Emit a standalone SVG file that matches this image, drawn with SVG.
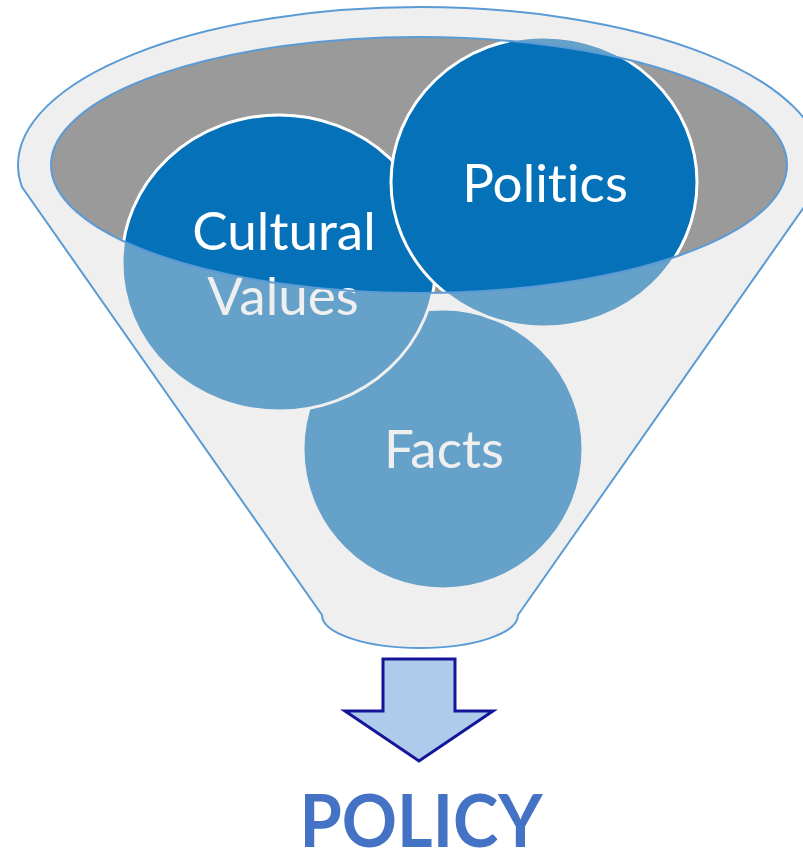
<svg xmlns="http://www.w3.org/2000/svg" width="803" height="854" viewBox="0 0 803 854">
  <style>
    .circ { fill: #0571b8; stroke: #ffffff; stroke-width: 3; }
    .lbl { font-family: Lato, "Open Sans", "Liberation Sans", sans-serif; font-size: 53px; fill: #ffffff; text-anchor: middle; font-variant-ligatures: none; font-feature-settings: "liga" 0, "clig" 0; }
    .outline { fill: none; stroke: #5b9bd5; stroke-width: 2; }
  </style>
  <rect width="803" height="854" fill="#ffffff"/>
  <g id="funnel-mouth">
    <ellipse cx="419" cy="165" rx="368" ry="128" fill="#9a9a9a"/>
  </g>
  <g id="node-facts">
    <ellipse class="circ" cx="443" cy="449" rx="140" ry="140"/>
    <text class="lbl" x="444" y="468">Facts</text>
  </g>
  <g id="node-cultural-values">
    <ellipse class="circ" cx="279" cy="263" rx="157" ry="148"/>
    <text class="lbl" x="284" y="250">Cultural</text>
    <text class="lbl" x="283" y="315">Values</text>
  </g>
  <g id="node-politics">
    <ellipse class="circ" cx="544" cy="182" rx="153" ry="145"/>
    <text class="lbl" x="545" y="202">Politics</text>
  </g>
  <g id="funnel">
    <path d="M 18 165 A 402 158 0 0 1 822 165 A 402 158 0 0 1 818 187 L 518 615 A 98 33 0 0 1 322 615 L 22 187 A 402 158 0 0 1 18 165 Z M 51 165 A 368 128 0 0 0 787 165 A 368 128 0 0 0 51 165 Z" fill="#dbdbdb" fill-opacity="0.45" fill-rule="evenodd"/>
    <path class="outline" d="M 18 165 A 402 158 0 0 1 822 165 A 402 158 0 0 1 818 187 L 518 615 A 98 33 0 0 1 322 615 L 22 187 A 402 158 0 0 1 18 165 Z"/>
    <ellipse class="outline" cx="419" cy="165" rx="368" ry="128"/>
  </g>
  <g id="connectors">
    <polygon points="383,659 455,659 455,711 493,711 419,761 345,711 383,711" fill="#aecbeb" stroke="#15159a" stroke-width="3" stroke-linejoin="miter"/>
  </g>
  <g id="node-policy">
    <text x="421" y="847" font-family="Lato, 'Open Sans', 'Liberation Sans', sans-serif" font-size="72" font-weight="bold" fill="#4472c4" text-anchor="middle" textLength="243" lengthAdjust="spacingAndGlyphs">POLICY</text>
  </g>
</svg>
